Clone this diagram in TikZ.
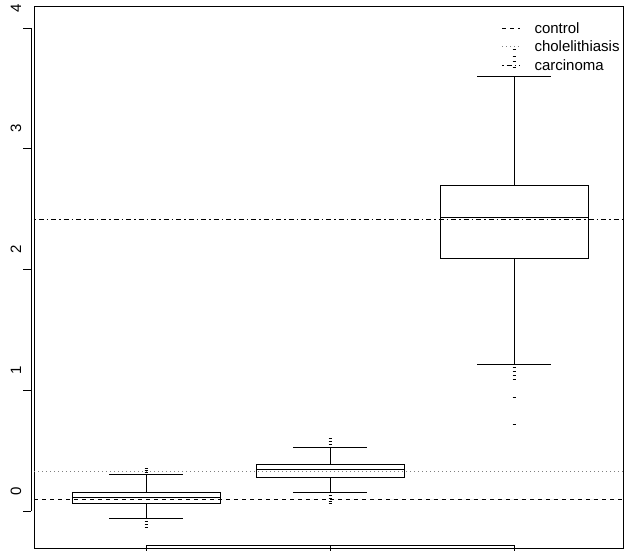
\documentclass[tikz,border=0pt]{standalone}
\usepackage{fontspec}
\setmainfont{Liberation Sans}
\tikzset{
  controle/.style={dash pattern=on 4pt off 4pt},
  calculs/.style={gray, dash pattern=on 1pt off 3pt},
  carcinome/.style={dash pattern=on 1.5pt off 3pt on 5pt off 3pt},
  lab/.style={font=\fontsize{15}{15}\selectfont, inner sep=0pt},
  aberrant/.style={line width=0.8pt}
}
\begin{document}
\begin{tikzpicture}[x=1pt,y=-1pt,line width=1pt]
  \useasboundingbox (0,0) rectangle (624,550);
  % cadre
  \draw (34,6) rectangle (623,548);

  % axe vertical
  \draw (31,28) -- (31,511);
  \foreach \v in {0,...,4}{
    \draw (23,511-120.75*\v) -- (31,511-120.75*\v);
    \node[lab,rotate=90] (y\v) at (16,491-120.75*\v) {\v};
  }

  % axe horizontal
  \draw (146,545) -- (514,545);
  \foreach \x in {146,330,514}
    \draw (\x,545) -- (\x,552);

  % lignes de reference
  \draw[controle,line width=0.8pt] (34,499) -- (623,499);
  \draw[calculs,line width=0.8pt] (34,471) -- (623,471);
  \draw[carcinome,line width=0.8pt] (34,219) -- (623,219);

  % boites
  \foreach \x/\ht/\bs/\med/\bi/\hi in {146/474/492/497/503/518,330/447/464/469/477/492,514/76/185/217/258/364}{
    \draw (\x-74,\bs) rectangle (\x+74,\bi);
    \draw (\x-74,\med) -- (\x+74,\med);
    \draw (\x,\ht) -- (\x,\bs);
    \draw (\x,\bi) -- (\x,\hi);
    \draw (\x-37,\ht) -- (\x+37,\ht);
    \draw (\x-37,\hi) -- (\x+37,\hi);
  }

  % valeurs aberrantes
  \foreach \x/\y in {146/468,146/470,146/472,146/521,146/524,146/527,
                     330/438,330/441,330/444,330/495,330/498,330/501,330/503,
                     514/49,514/56,514/61,514/67,
                     514/367,514/371,514/375,514/379,514/397,514/424}
    \draw[aberrant] (\x-1.5,\y) -- (\x+1.5,\y);

  % legende
  \node[lab,anchor=west] (leg1) at (534,28) {control};
  \node[lab,anchor=west] (leg2) at (534,46.5) {cholelithiasis};
  \node[lab,anchor=west] (leg3) at (534,65) {carcinoma};
  \draw[controle,line width=0.8pt] ([xshift=-32pt]leg1.west) -- ([xshift=-14pt]leg1.west);
  \draw[calculs,line width=0.8pt] ([xshift=-32pt]leg2.west) -- ([xshift=-14pt]leg2.west);
  \draw[carcinome,line width=0.8pt] ([xshift=-32pt]leg3.west) -- ([xshift=-14pt]leg3.west);
\end{tikzpicture}
\end{document}
